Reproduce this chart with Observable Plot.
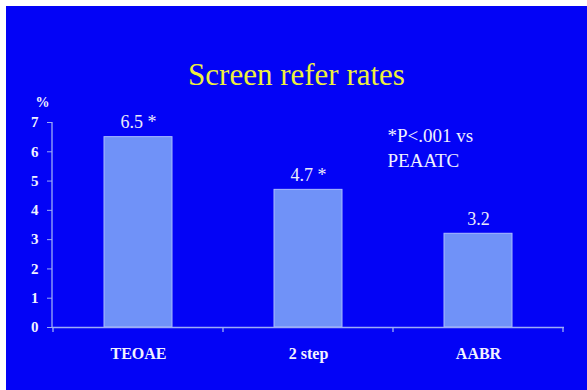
<!DOCTYPE html>
<html>
<head>
<meta charset="utf-8">
<script src="https://cdn.jsdelivr.net/npm/d3@7"></script>
<script src="https://cdn.jsdelivr.net/npm/@observablehq/plot@0.6"></script>
<style>
  html, body { margin: 0; padding: 0; background: #ffffff; }
  #slide {
    position: absolute; left: 6px; top: 6px; width: 581px; height: 384px;
    background: #0303f6; overflow: hidden;
    font-family: "Liberation Serif", "Times New Roman", serif;
  }
  #title {
    position: absolute; left: 0; top: 53px; width: 100%;
    text-align: center; font-size: 31px; line-height: 31px; color: #eef03c;
  }
  #chart { position: absolute; left: 0; top: 84px; }
</style>
</head>
<body>
<div id="slide">
  <div id="title">Screen refer rates</div>
  <div id="chart"></div>
</div>
<script>
// Screening methods and their refer rates (%)
const categories = ["TEOAE", "2 step", "AABR"];
const rates = [6.5, 4.7, 3.2];
const significant = [true, true, false];
const yTicks = [0, 1, 2, 3, 4, 5, 6, 7];
const yUnit = "%";
const note = "*P<.001 vs\nPEAATC";

const data = categories.map((c, i) => ({
  method: c,
  rate: rates[i],
  label: rates[i].toFixed(1) + (significant[i] ? " *" : "")
}));

const serif = "'Liberation Serif', 'Times New Roman', serif";
const axisColor = "#9cacf6";

// Left axis line plus small downward ticks at every band boundary
function axisFrame(index, scales, values, dims) {
  const {width, height, marginLeft, marginRight, marginTop, marginBottom} = dims;
  const sx = scales.x;
  const n = categories.length;
  const step = typeof sx.step === "function" ? sx.step() : (width - marginLeft - marginRight) / n;
  const bw = typeof sx.bandwidth === "function" ? sx.bandwidth() : step * 0.4;
  const start = sx(categories[0]) - (step - bw) / 2;
  const y0 = height - marginBottom;
  const g = d3.create("svg:g").attr("stroke", axisColor).attr("stroke-width", 1.3);
  g.append("line")
    .attr("x1", marginLeft).attr("x2", marginLeft)
    .attr("y1", marginTop).attr("y2", y0);
  for (let i = 0; i <= n; i++) {
    const bx = start + i * step;
    g.append("line").attr("x1", bx).attr("x2", bx).attr("y1", y0).attr("y2", y0 + 5);
  }
  return g.node();
}

const chart = Plot.plot({
  width: 581,
  height: 300,
  marginLeft: 46,
  marginRight: 23,
  marginTop: 32,
  marginBottom: 63,
  style: {background: "transparent", color: "#f2f2ff", fontFamily: serif, overflow: "visible"},
  x: {domain: categories, paddingInner: 0.6, paddingOuter: 0.3, axis: null, label: null},
  y: {domain: [0, 7], axis: null, label: null},
  marks: [
    Plot.barY(data, {x: "method", y: "rate", fill: "#7092f8", stroke: "#aabcff", strokeWidth: 1}),
    Plot.ruleY([0], {stroke: axisColor, strokeWidth: 1.3}),
    axisFrame,
    Plot.axisY({ticks: yTicks, tickFormat: "d", tickSize: 5, tickPadding: 9, stroke: axisColor, fontSize: 15, fontWeight: "bold", label: null}),
    Plot.axisX({tickSize: 0, tickPadding: 20, fontSize: 16, fontWeight: "bold", label: null}),
    Plot.text(data, {x: "method", y: "rate", text: "label", dy: -9, lineAnchor: "bottom", fontSize: 18, fill: "#ececfa"}),
    Plot.text([yUnit], {frameAnchor: "top-left", dx: -17, dy: -25, fontSize: 14, fontWeight: "bold", fill: "#f2f2ff"}),
    Plot.text([note], {frameAnchor: "top-left", dx: 335, dy: 2, lineAnchor: "top", textAnchor: "start", lineHeight: 1.3, fontSize: 19, fill: "#f2f2ff"})
  ]
});

document.getElementById("chart").appendChild(chart);
</script>
</body>
</html>
